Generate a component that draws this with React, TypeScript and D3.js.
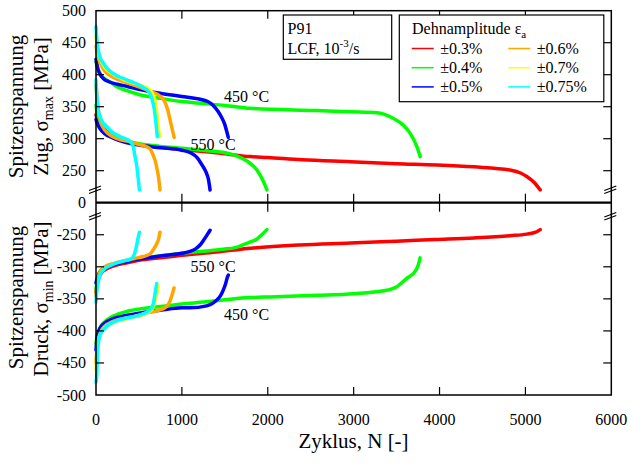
import React from "react";
import * as d3 from "d3";

// ---------- data ----------
const AMPLITUDES = ["±0.3%", "±0.4%", "±0.5%", "±0.6%", "±0.7%", "±0.75%"];
const COLORS = ["#ff0000", "#00ff00", "#0000ff", "#ffa500", "#ffff00", "#00ffff"];
const X_TICKS = [0, 1000, 2000, 3000, 4000, 5000, 6000];
const TOP_TICKS = [250, 300, 350, 400, 450, 500];
const BOT_TICKS = [-500, -450, -400, -350, -300, -250];

type P = [number, number];

// sigma_max, 450 °C
const max450_04: P[] = [[0,420],[20,410],[50,401],[100,394],[160,389],[250,381],[360,375],[500,369],[750,363],[1000,358],[1250,355],[1500,352],[1800,347.5],[2570,344],[2960,342],[3270,340.5],[3460,332],[3580,321],[3660,308],[3735,288],[3775,272]];
const max450_05: P[] = [[0,424],[20,410],[50,400],[85,394],[150,389],[250,385],[357,382],[500,377],[745,371],[1000,366],[1200,362],[1300,358],[1365,352],[1420,343],[1460,334],[1500,322],[1525,310],[1540,302]];
const max450_06: P[] = [[0,445],[20,430],[50,418],[100,406],[200,396],[350,388],[500,381],[630,374],[750,366],[800,358],[830,347],[860,331],[885,316],[910,302]];
const max450_07: P[] = [[0,460],[20,440],[50,425],[100,412],[200,401],[350,391],[500,384],[620,377],[670,367],[700,350],[720,326],[738,303]];
const max450_075: P[] = [[0,475],[10,455],[27,438],[50,426],[85,418],[150,407],[250,398],[357,392],[450,387],[551,380],[628,371],[660,358],[680,345],[700,322],[714,303]];

// sigma_max, 550 °C
const max550_03: P[] = [[0,337],[20,330],[47,324],[90,316],[124,311],[200,303],[350,296],[500,291],[750,287],[1000,283],[1400,278],[1800,272],[2000,270.5],[2400,267],[2960,264],[3500,261],[3970,259],[4400,256],[4820,251],[4950,246],[5020,240.5],[5100,232],[5172,220]];
const max550_04: P[] = [[0,352],[20,335],[50,322],[100,312],[200,304],[350,297],[500,292],[750,288],[1000,285],[1300,281],[1500,278],[1640,273],[1760,265],[1880,250],[1950,233],[1990,220]];
const max550_05: P[] = [[0,330],[20,322],[50,315],[100,308],[200,301],[350,294],[500,290],[750,286],[1000,282],[1100,278],[1180,270],[1230,260],[1280,248],[1310,236],[1328,220]];
const max550_06: P[] = [[0,385],[15,360],[40,335],[80,318],[150,307],[250,300],[400,295],[500,291],[580,288],[630,284],[660,276],[690,265],[715,250],[730,238],[745,220]];
const max550_075: P[] = [[0,392],[10,365],[25,345],[47,335],[80,325],[124,319],[180,311],[241,306],[300,302],[357,299],[415,293],[435,287],[455,272],[474,258],[490,240],[505,220]];

// sigma_min, 550 °C
const min550_03: P[] = [[0,-340],[10,-331],[30,-318],[60,-310],[100,-305],[200,-299],[350,-294],[500,-290],[750,-286],[1000,-282],[1400,-277],[1800,-271],[2376,-266],[2960,-263],[3500,-260],[3950,-257.5],[4400,-255],[4820,-251.5],[5016,-249],[5120,-246],[5172,-242]];
const min550_04: P[] = [[0,-335],[10,-325],[30,-312],[60,-305],[100,-301],[200,-296],[350,-291],[500,-287],[750,-283],[1000,-279],[1480,-272.5],[1620,-270],[1716,-265.5],[1800,-261],[1871,-257],[1930,-250],[1990,-242]];
const min550_05: P[] = [[0,-325],[10,-320],[30,-312],[60,-306],[100,-302],[200,-297],[350,-292],[500,-288],[750,-283],[1000,-279],[1095,-276],[1160,-272],[1211,-266],[1250,-259],[1290,-251],[1328,-243]];
const min550_06: P[] = [[0,-345],[10,-330],[30,-315],[60,-305],[100,-300],[200,-295],[350,-290],[450,-287],[551,-284],[629,-280],[668,-273],[707,-264],[730,-256],[745,-246]];
const min550_075: P[] = [[0,-355],[8,-340],[27,-323],[50,-312],[86,-305],[150,-299],[241,-294],[350,-290],[415,-287],[435,-284],[455,-277],[474,-266],[490,-255],[505,-246]];

// sigma_min, 450 °C
const min450_04: P[] = [[0,-420],[10,-410],[30,-400],[60,-392],[100,-386],[200,-377],[350,-370],[500,-366],[750,-362],[1000,-358],[1250,-355],[1500,-351.5],[1794,-348],[2027,-347],[2571,-344.5],[3000,-342],[3347,-337.5],[3502,-331],[3618,-318],[3716,-307],[3750,-298],[3774,-286]];
const min450_05: P[] = [[0,-430],[10,-415],[30,-402],[60,-393],[100,-388],[200,-381],[350,-376],[518,-372],[750,-368],[1000,-364],[1095,-364],[1289,-361],[1405,-352],[1450,-345],[1483,-336],[1510,-326],[1530,-316],[1541,-313]];
const min450_06: P[] = [[0,-450],[10,-430],[30,-412],[60,-400],[100,-393],[200,-385],[350,-380],[500,-376],[592,-372],[700,-369],[747,-367],[823,-362],[860,-354],[881,-346],[909,-333]];
const min450_07: P[] = [[0,-460],[10,-435],[30,-415],[60,-403],[100,-395],[200,-387],[350,-381],[500,-376],[620,-370],[660,-364],[690,-352],[710,-340],[727,-330]];
const min450_075: P[] = [[0,-480],[8,-471],[15,-445],[27,-419],[50,-405],[86,-398],[150,-390],[241,-384],[350,-380],[435,-378],[512,-375],[630,-367],[668,-357],[690,-340],[707,-326]];

const TOP_SERIES: [number, P[]][] = [
  [0, max550_03], [1, max550_04], [1, max450_04], [2, max450_05], [2, max550_05],
  [3, max450_06], [3, max550_06], [4, max450_07], [5, max450_075], [5, max550_075],
];
const BOT_SERIES: [number, P[]][] = [
  [0, min550_03], [1, min550_04], [1, min450_04], [2, min450_05], [2, min550_05],
  [3, min450_06], [3, min550_06], [4, min450_07], [5, min450_075], [5, min550_075],
];

// ---------- layout ----------
const W = 632, H = 464;
const X0 = 96, X1 = 611.3;
const YTOP = 10.7, YMID = 202.7, YBOT = 395;
const FONT = "'Liberation Serif', 'Times New Roman', Times, serif";

export default function App() {
  const x = d3.scaleLinear().domain([0, 6000]).range([X0, X1]);
  const yTop = d3.scaleLinear().domain([200, 500]).range([YMID, YTOP]);
  const yBot = d3.scaleLinear().domain([-500, -200]).range([YBOT, YMID]);
  const lineTop = d3.line<P>().x(d => x(d[0])).y(d => yTop(d[1])).curve(d3.curveMonotoneX);
  const lineBot = d3.line<P>().x(d => x(d[0])).y(d => yBot(d[1])).curve(d3.curveMonotoneX);
  const TL = 8;
  const ts = { fontFamily: FONT };

  const breakMark = (cx: number, cy: number, key: string) => (
    <g key={key} stroke="#000" strokeWidth={1.2}>
      <line x1={cx - 7} y1={cy + 1} x2={cx + 5} y2={cy - 3.5} />
      <line x1={cx - 7} y1={cy + 4} x2={cx + 5} y2={cy - 0.5} />
    </g>
  );

  return (
    <svg width={W} height={H} style={{ position: "absolute", left: 0, top: 0, background: "#fff", fontFamily: FONT }}>
      <rect x={0} y={0} width={W} height={H} fill="#fff" />
      {/* curves */}
      <g fill="none" strokeWidth={3.5} strokeLinejoin="round" strokeLinecap="round">
        {TOP_SERIES.map(([ci, data], i) => (
          <path key={"t" + i} d={lineTop(data) || ""} stroke={COLORS[ci]} />
        ))}
        {BOT_SERIES.map(([ci, data], i) => (
          <path key={"b" + i} d={lineBot(data) || ""} stroke={COLORS[ci]} />
        ))}
      </g>

      {/* frame */}
      <g stroke="#000" fill="none">
        <rect x={X0} y={YTOP} width={X1 - X0} height={YBOT - YTOP} strokeWidth={1.5} />
        <line x1={X0} x2={X1} y1={YMID} y2={YMID} strokeWidth={2.2} />
        {X_TICKS.slice(1, -1).map(t => (
          <g key={"xt" + t} strokeWidth={1.2}>
            <line x1={x(t)} x2={x(t)} y1={YTOP} y2={YTOP + TL} />
            <line x1={x(t)} x2={x(t)} y1={YMID - TL - 1} y2={YMID + TL + 1} />
            <line x1={x(t)} x2={x(t)} y1={YBOT} y2={YBOT - TL} />
          </g>
        ))}
        {TOP_TICKS.slice(0, -1).map(t => (
          <g key={"yt" + t} strokeWidth={1.2}>
            <line x1={X0} x2={X0 + TL} y1={yTop(t)} y2={yTop(t)} />
            <line x1={X1} x2={X1 - TL} y1={yTop(t)} y2={yTop(t)} />
          </g>
        ))}
        {BOT_TICKS.slice(1).map(t => (
          <g key={"yb" + t} strokeWidth={1.2}>
            <line x1={X0} x2={X0 + TL} y1={yBot(t)} y2={yBot(t)} />
            <line x1={X1} x2={X1 - TL} y1={yBot(t)} y2={yBot(t)} />
          </g>
        ))}
      </g>
      {breakMark(X0, 189.5, "b1")}
      {breakMark(X0, 216, "b2")}
      {breakMark(X1, 189.5, "b3")}
      {breakMark(X1, 216, "b4")}

      {/* tick labels */}
      <g fontSize={16} fill="#000" style={ts}>
        {X_TICKS.map(t => (
          <text key={"xl" + t} x={x(t)} y={425} textAnchor="middle" style={ts}>{t}</text>
        ))}
        {TOP_TICKS.map(t => (
          <text key={"tl" + t} x={86} y={yTop(t) + 5.5} textAnchor="end" style={ts}>{t}</text>
        ))}
        <text x={86} y={YMID + 5.5} textAnchor="end" style={ts}>0</text>
        {BOT_TICKS.map(t => (
          <text key={"bl" + t} x={86} y={yBot(t) + 5.5} textAnchor="end" style={ts}>{t}</text>
        ))}
      </g>

      {/* axis titles */}
      <text x={353.5} y={448} fontSize={21} textAnchor="middle" style={ts}>Zyklus, N [-]</text>
      <g fontSize={21} textAnchor="middle" style={ts}>
        <text transform="translate(23,106.5) rotate(-90)" style={ts}>Spitzenspannung</text>
        <text transform="translate(47.5,106.5) rotate(-90)" style={ts}>
          Zug, σ<tspan fontSize={14} dy={5}>max</tspan><tspan dy={-5}> [MPa]</tspan>
        </text>
        <text transform="translate(23,297.5) rotate(-90)" style={ts}>Spitzenspannung</text>
        <text transform="translate(47.5,299) rotate(-90)" style={ts}>
          Druck, σ<tspan fontSize={14} dy={5}>min</tspan><tspan dy={-5}> [MPa]</tspan>
        </text>
      </g>

      {/* temperature labels */}
      <g fontSize={16} style={ts}>
        <text x={224} y={102} style={ts}>450 °C</text>
        <text x={190.5} y={150} style={ts}>550 °C</text>
        <text x={190.5} y={272} style={ts}>550 °C</text>
        <text x={224} y={320} style={ts}>450 °C</text>
      </g>

      {/* material box */}
      <rect x={283.3} y={15} width={108.4} height={44.3} fill="#fff" stroke="#000" strokeWidth={1.2} />
      <g fontSize={16} style={ts}>
        <text x={287.5} y={33.5} style={ts}>P91</text>
        <text x={287.5} y={53.5} style={ts}>LCF, 10<tspan fontSize={11} dy={-7}>-3</tspan><tspan dy={7}>/s</tspan></text>
      </g>

      {/* legend */}
      <rect x={399.3} y={15} width={204.5} height={86.7} fill="#fff" stroke="#000" strokeWidth={1.2} />
      <text x={412} y={33.5} fontSize={16} style={ts}>Dehnamplitude ε<tspan fontSize={11} dy={4}>a</tspan></text>
      {AMPLITUDES.map((a, i) => {
        const col = Math.floor(i / 3);
        const row = i % 3;
        const lx = col === 0 ? 411.7 : 508.3;
        const ly = 48.5 + row * 19.2;
        return (
          <g key={a}>
            <line x1={lx} x2={lx + 22} y1={ly} y2={ly} stroke={COLORS[i]} strokeWidth={1.5} />
            <text x={lx + 28.5} y={ly + 5.5} fontSize={16} style={ts}>{a}</text>
          </g>
        );
      })}
    </svg>
  );
}
